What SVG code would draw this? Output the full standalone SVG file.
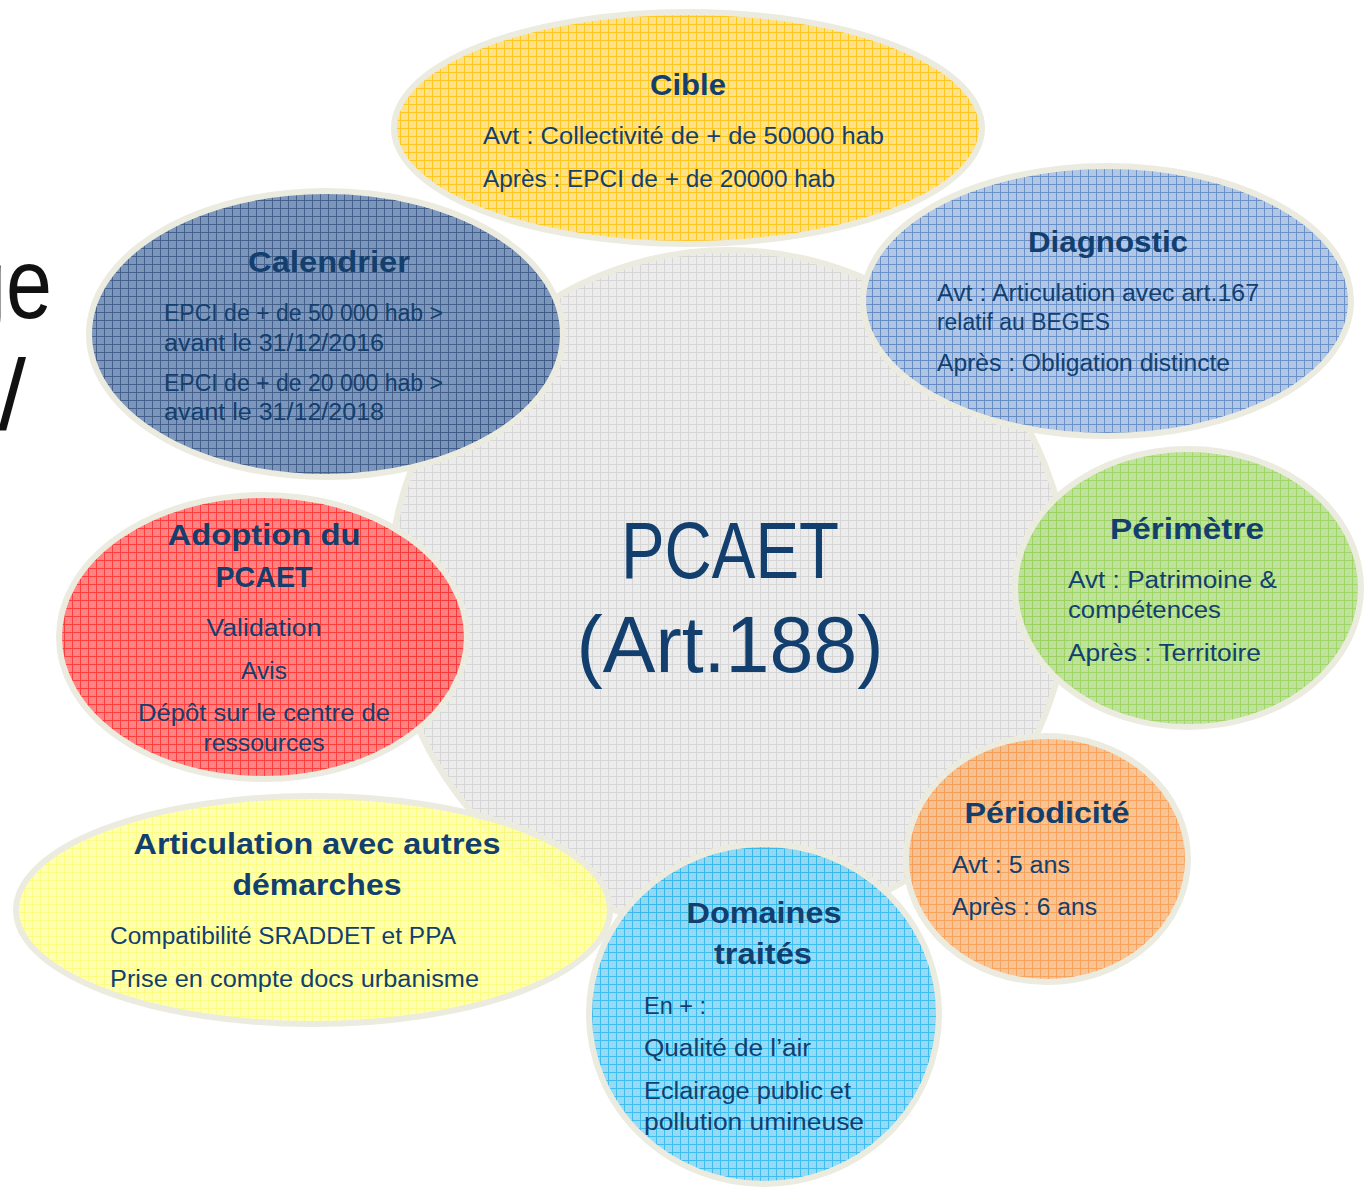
<svg xmlns="http://www.w3.org/2000/svg" width="1364" height="1188" viewBox="0 0 1364 1188">
<defs>
<pattern id="pGray" width="8" height="8" patternUnits="userSpaceOnUse"><rect width="8" height="8" fill="#ececec"/><path d="M0 0.5H8M0.5 0V8" stroke="#d6d6d6" stroke-width="1"/></pattern>
<pattern id="pYel" width="8" height="8" patternUnits="userSpaceOnUse"><rect width="8" height="8" fill="#ffdc78"/><path d="M0 0.5H8M0.5 0V8" stroke="#ffc000" stroke-width="1"/></pattern>
<pattern id="pDiag" width="8" height="8" patternUnits="userSpaceOnUse"><rect width="8" height="8" fill="#a6bfe2"/><path d="M0 0.5H8M0.5 0V8" stroke="#5482c0" stroke-width="1"/></pattern>
<pattern id="pCal" width="8" height="8" patternUnits="userSpaceOnUse"><rect width="8" height="8" fill="#6a88b2"/><path d="M0 0.5H8M0.5 0V8" stroke="#284a7c" stroke-width="1"/></pattern>
<pattern id="pGreen" width="8" height="8" patternUnits="userSpaceOnUse"><rect width="8" height="8" fill="#b6de8e"/><path d="M0 0.5H8M0.5 0V8" stroke="#92d050" stroke-width="1"/></pattern>
<pattern id="pRed" width="8" height="8" patternUnits="userSpaceOnUse"><rect width="8" height="8" fill="#ff7070"/><path d="M0 0.5H8M0.5 0V8" stroke="#ff2020" stroke-width="1"/></pattern>
<pattern id="pOr" width="8" height="8" patternUnits="userSpaceOnUse"><rect width="8" height="8" fill="#f8bb84"/><path d="M0 0.5H8M0.5 0V8" stroke="#f79646" stroke-width="1"/></pattern>
<pattern id="pPale" width="8" height="8" patternUnits="userSpaceOnUse"><rect width="8" height="8" fill="#ffffa6"/><path d="M0 0.5H8M0.5 0V8" stroke="#fcfc70" stroke-width="1"/></pattern>
<pattern id="pCyan" width="8" height="8" patternUnits="userSpaceOnUse"><rect width="8" height="8" fill="#86d4f4"/><path d="M0 0.5H8M0.5 0V8" stroke="#20b4ec" stroke-width="1"/></pattern>
</defs>
<style>
.sh{stroke:#ecebe0;stroke-width:6;fill-opacity:0.87}
.t{font-family:"Liberation Sans",Arial,sans-serif;font-weight:bold;font-size:30px;fill:#123f6e}
.b{font-family:"Liberation Sans",Arial,sans-serif;font-size:23px;fill:#123f6e}
.big{font-family:"Liberation Sans",Arial,sans-serif;font-size:80px;fill:#123f6e}
.side{font-family:"Liberation Sans",Arial,sans-serif;font-size:100px;fill:#111}
</style>
<rect width="1364" height="1188" fill="#ffffff"/>
<text class="side" x="-40" y="318" textLength="92" lengthAdjust="spacingAndGlyphs">ge</text>
<text class="side" x="26" y="430" text-anchor="end">/</text>

<g id="center">
<circle cx="729" cy="590" r="340" fill="url(#pGray)" stroke="#ecebe0" stroke-width="6"/>
</g>

<g id="connectors"></g>

<g id="cible">
<ellipse class="sh" cx="688" cy="128" rx="294" ry="116" fill="url(#pYel)"/>
<text class="t" x="688" y="95" text-anchor="middle" textLength="76" lengthAdjust="spacingAndGlyphs">Cible</text>
<text class="b" x="483" y="144" textLength="401" lengthAdjust="spacingAndGlyphs">Avt : Collectivité de + de 50000 hab</text>
<text class="b" x="483" y="187" textLength="352" lengthAdjust="spacingAndGlyphs">Après : EPCI de + de 20000 hab</text>
</g>

<g id="diagnostic">
<ellipse class="sh" cx="1107" cy="301" rx="244" ry="135" fill="url(#pDiag)"/>
<text class="t" x="1108" y="252" text-anchor="middle" textLength="160" lengthAdjust="spacingAndGlyphs">Diagnostic</text>
<text class="b" x="937" y="301" textLength="322" lengthAdjust="spacingAndGlyphs">Avt : Articulation avec art.167</text>
<text class="b" x="937" y="330" textLength="173" lengthAdjust="spacingAndGlyphs">relatif au BEGES</text>
<text class="b" x="937" y="371" textLength="293" lengthAdjust="spacingAndGlyphs">Après : Obligation distincte</text>
</g>

<g id="calendrier">
<ellipse class="sh" cx="326" cy="334" rx="237" ry="143" fill="url(#pCal)"/>
<text class="t" x="329" y="272" text-anchor="middle" textLength="162" lengthAdjust="spacingAndGlyphs">Calendrier</text>
<text class="b" x="164" y="321" textLength="279" lengthAdjust="spacingAndGlyphs">EPCI de + de 50 000 hab &gt;</text>
<text class="b" x="164" y="351" textLength="220" lengthAdjust="spacingAndGlyphs">avant le 31/12/2016</text>
<text class="b" x="164" y="391" textLength="279" lengthAdjust="spacingAndGlyphs">EPCI de + de 20 000 hab &gt;</text>
<text class="b" x="164" y="420" textLength="220" lengthAdjust="spacingAndGlyphs">avant le 31/12/2018</text>
</g>

<g id="perimetre">
<ellipse class="sh" cx="1188" cy="588" rx="173" ry="139" fill="url(#pGreen)"/>
<text class="t" x="1187" y="539" text-anchor="middle" textLength="154" lengthAdjust="spacingAndGlyphs">Périmètre</text>
<text class="b" x="1068" y="588" textLength="209" lengthAdjust="spacingAndGlyphs">Avt : Patrimoine &amp;</text>
<text class="b" x="1068" y="618" textLength="153" lengthAdjust="spacingAndGlyphs">compétences</text>
<text class="b" x="1068" y="661" textLength="193" lengthAdjust="spacingAndGlyphs">Après : Territoire</text>
</g>

<g id="adoption">
<ellipse class="sh" cx="263" cy="637" rx="204" ry="142" fill="url(#pRed)"/>
<text class="t" x="264" y="545" text-anchor="middle" textLength="193" lengthAdjust="spacingAndGlyphs">Adoption du</text>
<text class="t" x="264" y="587" text-anchor="middle" textLength="97" lengthAdjust="spacingAndGlyphs">PCAET</text>
<text class="b" x="264" y="636" text-anchor="middle" textLength="115" lengthAdjust="spacingAndGlyphs">Validation</text>
<text class="b" x="264" y="679" text-anchor="middle" textLength="46" lengthAdjust="spacingAndGlyphs">Avis</text>
<text class="b" x="264" y="721" text-anchor="middle" textLength="252" lengthAdjust="spacingAndGlyphs">Dépôt sur le centre de</text>
<text class="b" x="264" y="751" text-anchor="middle" textLength="121" lengthAdjust="spacingAndGlyphs">ressources</text>
</g>

<g id="periodicite">
<ellipse class="sh" cx="1047" cy="859" rx="141" ry="123" fill="url(#pOr)"/>
<text class="t" x="1047" y="823" text-anchor="middle" textLength="165" lengthAdjust="spacingAndGlyphs">Périodicité</text>
<text class="b" x="952" y="873" textLength="118" lengthAdjust="spacingAndGlyphs">Avt : 5 ans</text>
<text class="b" x="952" y="915" textLength="145" lengthAdjust="spacingAndGlyphs">Après : 6 ans</text>
</g>

<g id="articulation">
<ellipse class="sh" cx="313" cy="910" rx="297" ry="114" fill="url(#pPale)"/>
<text class="t" x="317" y="854" text-anchor="middle" textLength="367" lengthAdjust="spacingAndGlyphs">Articulation avec autres</text>
<text class="t" x="317" y="895" text-anchor="middle" textLength="169" lengthAdjust="spacingAndGlyphs">démarches</text>
<text class="b" x="110" y="944" textLength="346" lengthAdjust="spacingAndGlyphs">Compatibilité SRADDET et PPA</text>
<text class="b" x="110" y="987" textLength="369" lengthAdjust="spacingAndGlyphs">Prise en compte docs urbanisme</text>
</g>

<g id="domaines">
<ellipse class="sh" cx="764" cy="1014" rx="175" ry="170" fill="url(#pCyan)"/>
<text class="t" x="764" y="923" text-anchor="middle" textLength="155" lengthAdjust="spacingAndGlyphs">Domaines</text>
<text class="t" x="763" y="964" text-anchor="middle" textLength="98" lengthAdjust="spacingAndGlyphs">traités</text>
<text class="b" x="644" y="1014" textLength="62" lengthAdjust="spacingAndGlyphs">En + :</text>
<text class="b" x="644" y="1056" textLength="167" lengthAdjust="spacingAndGlyphs">Qualité de l’air</text>
<text class="b" x="644" y="1099" textLength="207" lengthAdjust="spacingAndGlyphs">Eclairage public et</text>
<text class="b" x="644" y="1130" textLength="220" lengthAdjust="spacingAndGlyphs">pollution umineuse</text>
</g>

<g id="pcaet-label">
<text class="big" x="730" y="578" text-anchor="middle" textLength="218" lengthAdjust="spacingAndGlyphs">PCAET</text>
<text class="big" x="730" y="672" text-anchor="middle" textLength="307" lengthAdjust="spacingAndGlyphs">(Art.188)</text>
</g>
</svg>
